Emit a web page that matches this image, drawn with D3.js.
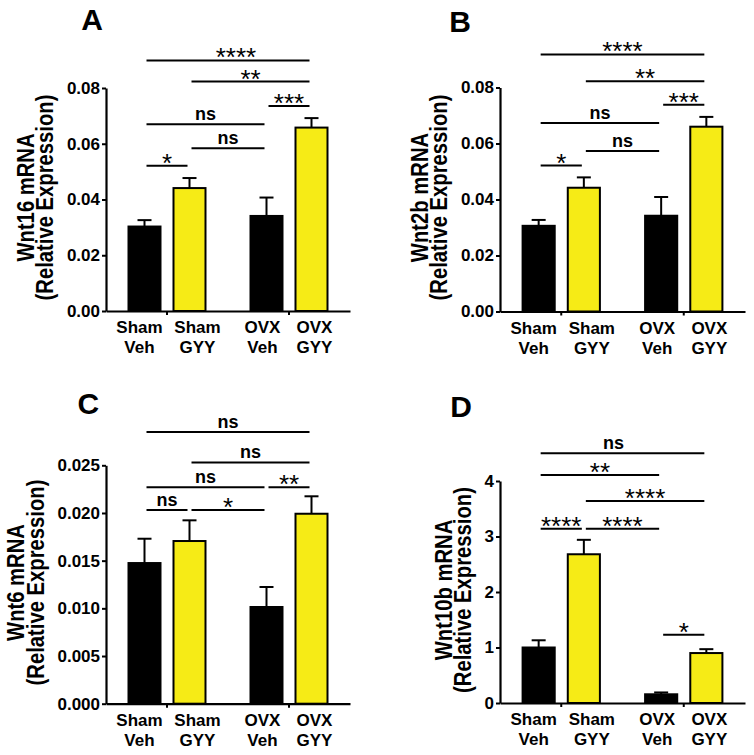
<!DOCTYPE html>
<html>
<head>
<meta charset="utf-8">
<script src="https://cdn.jsdelivr.net/npm/d3@7"></script>
<style>
  body { margin: 0; background: #fff; }
  svg { display: block; }
  text { font-family: "Liberation Sans", Arial, sans-serif; fill: #000; }
</style>
</head>
<body>
<svg id="chart" width="754" height="755"></svg>
<script>
// ---------- data ----------
const groups = ["Sham", "OVX"];
const treatments = ["Veh", "GYY"];
const categories = [["Sham", "Veh"], ["Sham", "GYY"], ["OVX", "Veh"], ["OVX", "GYY"]];

const wnt16Mean = [0.0303, 0.0441, 0.0341, 0.0658];
const wnt16Sem  = [0.0023, 0.0036, 0.0066, 0.0034];
const wnt2bMean = [0.0306, 0.0442, 0.0342, 0.0660];
const wnt2bSem  = [0.0021, 0.0037, 0.0067, 0.0035];
const wnt6Mean  = [0.01475, 0.01706, 0.01014, 0.01992];
const wnt6Sem   = [0.00255, 0.00217, 0.00210, 0.00183];
const wnt10bMean = [1.00, 2.68, 0.157, 0.90];
const wnt10bSem  = [0.13, 0.26, 0.033, 0.07];

const ticksAB = [0, 0.02, 0.04, 0.06, 0.08];
const ticksC  = [0, 0.005, 0.010, 0.015, 0.020, 0.025];
const ticksD  = [0, 1, 2, 3, 4];

// significance brackets: [from bar, to bar, label, level (data units)]
const sigA = [[0,3,"****",0.0899],[1,3,"**",0.0823],[2,3,"***",0.0735],[0,2,"ns",0.0670],[1,2,"ns",0.0584],[0,1,"*",0.0521]];
const sigB = [[0,3,"****",0.0918],[1,3,"**",0.0822],[2,3,"***",0.0738],[0,2,"ns",0.0673],[1,2,"ns",0.0573],[0,1,"*",0.0521]];
const sigC = [[0,3,"ns",0.0285],[1,3,"ns",0.0253],[0,2,"ns",0.0227],[2,3,"**",0.0227],[0,1,"ns",0.0203],[1,2,"*",0.0203]];
const sigD = [[0,3,"ns",4.50],[0,2,"**",4.11],[1,3,"****",3.64],[0,1,"****",3.14],[1,2,"****",3.14],[2,3,"*",1.23]];

// ---------- layout / style ----------
const YELLOW = "#f6eb16";
const panels = [
  {letter:"A", gene:"Wnt16 mRNA", mean:wnt16Mean, sem:wnt16Sem, ticks:ticksAB, fmt:d3.format(".2f"), max:0.08, sig:sigA,
   left:106, right:350, top:88, bottom:311, lx:92, ly:30, sigDx:[8,0,0,0,0,0]},
  {letter:"B", gene:"Wnt2b mRNA", mean:wnt2bMean, sem:wnt2bSem, ticks:ticksAB, fmt:d3.format(".2f"), max:0.08, sig:sigB,
   left:500, right:745, top:87.5, bottom:311.5, lx:460, ly:31.5, sigDx:[0,0,0,0,0,0]},
  {letter:"C", gene:"Wnt6 mRNA", mean:wnt6Mean, sem:wnt6Sem, ticks:ticksC, fmt:d3.format(".3f"), max:0.025, sig:sigC,
   left:106, right:350, top:465.3, bottom:703.7, lx:88.3, ly:413.5, sigDx:[0,0,0,0,0,0]},
  {letter:"D", gene:"Wnt10b mRNA", mean:wnt10bMean, sem:wnt10bSem, ticks:ticksD, fmt:d3.format("d"), max:4, sig:sigD,
   left:500, right:745, top:481, bottom:703, lx:461, ly:417, sigDx:[-9,0,0,0,0,0]}
];
const labelDx = [-5, 8, -4, 3];

const svg = d3.select("#chart");

panels.forEach(p => {
  const g = svg.append("g").attr("transform", `translate(${p.left},0)`);
  const w = p.right - p.left;

  const y = d3.scaleLinear().domain([0, p.max]).range([p.bottom, p.top]);
  const xg = d3.scaleBand().domain(groups).range([0, w]).paddingInner(0).paddingOuter(0);
  const xt = d3.scaleBand().domain(treatments).range([0, xg.bandwidth()]).paddingInner(0.289).paddingOuter(0.5);
  const bx = i => xg(categories[i][0]) + xt(categories[i][1]);
  const cx = i => bx(i) + xt.bandwidth() / 2;

  // bars
  const idx = d3.range(categories.length);
  g.selectAll("rect.bar").data(idx).join("rect")
    .attr("x", i => bx(i)).attr("width", xt.bandwidth())
    .attr("y", i => y(p.mean[i])).attr("height", i => y(0) - y(p.mean[i]))
    .attr("fill", i => categories[i][1] === "Veh" ? "#000" : YELLOW)
    .attr("stroke", "#000").attr("stroke-width", 2);

  // error bars (upper)
  g.selectAll("line.err").data(idx).join("line")
    .attr("x1", i => cx(i)).attr("x2", i => cx(i))
    .attr("y1", i => y(p.mean[i])).attr("y2", i => y(p.mean[i] + p.sem[i]))
    .attr("stroke", "#000").attr("stroke-width", 2);
  g.selectAll("line.cap").data(idx).join("line")
    .attr("x1", i => cx(i) - 7).attr("x2", i => cx(i) + 7)
    .attr("y1", i => y(p.mean[i] + p.sem[i])).attr("y2", i => y(p.mean[i] + p.sem[i]))
    .attr("stroke", "#000").attr("stroke-width", 2);

  // y axis
  const ya = g.append("g").call(d3.axisLeft(y).tickValues(p.ticks).tickFormat(p.fmt).tickSize(4).tickSizeOuter(0).tickPadding(2));
  ya.select(".domain").attr("stroke-width", 2.2);
  ya.selectAll(".tick line").attr("stroke-width", 2);
  ya.selectAll(".tick text").attr("font-size", 17).attr("font-weight", "bold")
    .attr("font-family", '"Liberation Sans", Arial, sans-serif');

  // x axis
  const xa = g.append("g").attr("transform", `translate(0,${p.bottom})`)
    .call(d3.axisBottom(xg).tickFormat("").tickSize(4).tickSizeOuter(0));
  xa.select(".domain").attr("stroke-width", 2.2);
  xa.selectAll(".tick line").attr("stroke-width", 2);

  // category labels
  idx.forEach(i => {
    const t = g.append("text").attr("text-anchor", "middle")
      .attr("font-size", 17).attr("font-weight", "bold");
    t.append("tspan").attr("x", cx(i) + labelDx[i]).attr("y", p.bottom + 22).text(categories[i][0]);
    t.append("tspan").attr("x", cx(i) + labelDx[i]).attr("y", p.bottom + 42).text(categories[i][1]);
  });

  // y title
  let minX = 0;
  ya.selectAll(".tick text").each(function() { const b = this.getBBox(); const tx = b.x - 2; if (tx < minX) minX = tx; });
  const base2 = minX - 11.5, base1 = base2 - 19.5;
  const ymid = (p.top + p.bottom) / 2 - 2;
  [[base1, p.gene], [base2, "(Relative Expression)"]].forEach(([bx2, txt]) => {
    g.append("text").attr("transform", `translate(${bx2},${ymid}) rotate(-90) scale(0.88,1)`)
      .attr("text-anchor", "middle").attr("font-size", 23).attr("font-weight", "bold").text(txt);
  });

  // significance brackets
  p.sig.forEach(([a, b, lab, lev], k) => {
    const x1 = cx(a) + 2, x2 = cx(b) - 2, yy = y(lev);
    g.append("line").attr("x1", x1).attr("x2", x2).attr("y1", yy).attr("y2", yy)
      .attr("stroke", "#000").attr("stroke-width", 2);
    const star = lab !== "ns";
    g.append("text").attr("x", (x1 + x2) / 2 + p.sigDx[k]).attr("y", star ? yy + 6 : yy - 4)
      .attr("text-anchor", "middle")
      .attr("font-size", star ? 26 : 18).attr("font-weight", star ? "normal" : "bold")
      .text(lab);
  });

  // panel letter
  svg.append("text").attr("x", p.lx).attr("y", p.ly).attr("text-anchor", "middle")
    .attr("font-size", 30).attr("font-weight", "bold").text(p.letter);
});
</script>
</body>
</html>
